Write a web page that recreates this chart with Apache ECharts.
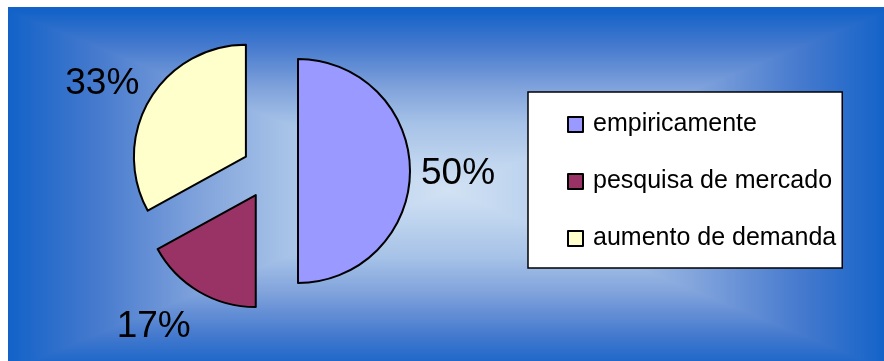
<!DOCTYPE html>
<html><head><meta charset="utf-8">
<script src="https://cdn.jsdelivr.net/npm/echarts@6/dist/echarts.min.js"></script>
<style>html,body{margin:0;padding:0;background:#fff;}#c{width:884px;height:361px;}</style>
</head><body><div id="c"></div>
<script>
const categories = ['empiricamente', 'pesquisa de mercado', 'aumento de demanda'];
const values = [50, 17, 33];
const colors = ['#9999FF', '#993366', '#FFFFCC'];

// rectangular "from centre" background gradient
const W = 876, H = 354;
const bg = document.createElement('canvas');
bg.width = W; bg.height = H;
(function () {
  const ctx = bg.getContext('2d');
  const img = ctx.createImageData(W, H);
  const cx = 440, cy = 183, hw = 440, hh = 180;
  const stops = [[0, [210, 226, 244]], [0.37, [166, 194, 231]], [0.56, [130, 164, 220]], [0.8, [70, 122, 206]], [1, [18, 98, 200]]];
  function col(t) {
    t = Math.min(1, Math.max(0, t));
    for (let i = 1; i < stops.length; i++) {
      if (t <= stops[i][0]) {
        const a = stops[i - 1], b = stops[i];
        const f = (t - a[0]) / (b[0] - a[0]);
        return [0, 1, 2].map(k => a[1][k] + (b[1][k] - a[1][k]) * f);
      }
    }
    return stops[stops.length - 1][1];
  }
  for (let y = 0; y < H; y++) {
    for (let x = 0; x < W; x++) {
      const t = Math.max(Math.abs(x - cx) / hw, Math.abs(y - cy) / hh);
      const c = col(t);
      const o = (y * W + x) * 4;
      img.data[o] = c[0]; img.data[o + 1] = c[1]; img.data[o + 2] = c[2]; img.data[o + 3] = 255;
    }
  }
  ctx.putImageData(img, 0, 0);
})();

const labelShift = [3, 30, -13];

const chart = echarts.init(document.getElementById('c'), null, {renderer: 'canvas'});
chart.setOption({
  animation: false,
  textStyle: {fontFamily: 'Liberation Sans'},
  graphic: [{type: 'image', z: -10, silent: true, style: {image: bg, x: 8, y: 7, width: W, height: H}}],
  legend: {
    orient: 'vertical',
    left: 528, top: 92,
    backgroundColor: '#fff',
    borderColor: '#000', borderWidth: 1.5,
    padding: [20, 6, 17, 39],
    itemWidth: 15, itemHeight: 15, itemGap: 32,
    selectedMode: false,
    icon: 'rect',
    textStyle: {fontSize: 25, color: '#000', fontFamily: 'Liberation Sans', padding: [0, 0, 0, 5]},
    data: categories
  },
  series: [{
    type: 'pie',
    center: [270, 171],
    radius: 112,
    startAngle: 90,
    clockwise: true,
    selectedMode: 'multiple',
    selectedOffset: 28,
    itemStyle: {borderColor: '#000', borderWidth: 2},
    select: {itemStyle: {borderColor: '#000', borderWidth: 2}},
    label: {show: true, position: 'outside', formatter: '{d}%', fontSize: 37, color: '#000', fontFamily: 'Liberation Sans'},
    labelLine: {show: false, length: 6, length2: 0},
    labelLayout: function (p) { return {dy: labelShift[p.dataIndex]}; },
    data: categories.map((n, i) => ({name: n, value: values[i], selected: true, itemStyle: {color: colors[i]}}))
  }]
});
</script></body></html>
